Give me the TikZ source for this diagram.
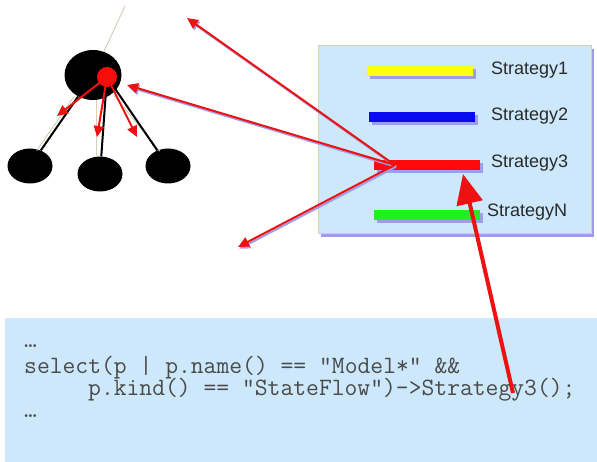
\documentclass[tikz,border=0pt]{standalone}
\usepackage{fontspec}
\setsansfont{Liberation Sans}
\usetikzlibrary{positioning,arrows.meta,calc,shapes.geometric,shadows}
\definecolor{PanelBlue}{HTML}{CCE8FA}
\definecolor{PanelEdge}{HTML}{D6D2AE}
\definecolor{ShadowLav}{HTML}{9E9EE8}
\definecolor{ArrowRed}{HTML}{EE1111}
\definecolor{BarYellow}{HTML}{FFFF10}
\definecolor{BarBlue}{HTML}{0A0AEE}
\definecolor{BarRed}{HTML}{FF0A0A}
\definecolor{BarGreen}{HTML}{20F020}
\definecolor{TreeBeige}{HTML}{D5CFB5}
\definecolor{GrayText}{HTML}{2A2A2A}
\tikzset{
  every node/.style = {inner sep=0pt, text=GrayText},
  lavshadow/.style  = {shadow xshift=3pt, shadow yshift=-3pt,
                       fill=ShadowLav, opacity=1},
  panel/.style      = {fill=PanelBlue, draw=PanelEdge, line width=1pt,
                       drop shadow={lavshadow}},
  codepanel/.style  = {fill=PanelBlue},
  stratbar/.style   = {rectangle, minimum width=106pt, minimum height=10pt,
                       drop shadow={lavshadow}},
  stratlabel/.style = {anchor=west, font=\sffamily\fontsize{18}{20}\selectfont},
  codeline/.style   = {anchor=base west, text height=17pt, text depth=4pt,
                       font=\ttfamily\fontsize{24.9}{22}\selectfont,
                       text=GrayText!85},
  codedots/.style   = {codeline, text height=3pt, text depth=0pt},
  rootnode/.style   = {ellipse, fill=black, minimum width=57pt,
                       minimum height=50pt},
  leafnode/.style   = {ellipse, fill=black, minimum width=45pt,
                       minimum height=35pt},
  marknode/.style   = {circle, fill=BarRed, minimum size=20pt},
  tedge/.style      = {line width=2pt, draw=black},
  tbeige/.style     = {line width=1pt, draw=TreeBeige},
  redarrow/.style   = {line width=2pt, draw=ArrowRed,
                       -{Triangle[length=11pt, width=10pt, fill=ArrowRed]}},
  arrowshade/.style = {line width=2pt, draw=ShadowLav,
                       -{Triangle[length=11pt, width=10pt, fill=ShadowLav]},
                       transform canvas={xshift=1.2pt, yshift=-1.8pt}},
  bigarrow/.style   = {line width=4pt, draw=ArrowRed,
                       -{Triangle[length=30pt, width=26pt, fill=ArrowRed]}},
}

\begin{document}
\begin{tikzpicture}[x=1pt, y=-1pt]
\useasboundingbox (0,0) rectangle (597,462);

% =========================================================================
% Panels
% =========================================================================
\draw[panel] (318,46) rectangle (591,234);
\fill[codepanel] (5,318) rectangle (597,462);

% =========================================================================
% Strategy bars and labels
% =========================================================================
\node[stratbar, fill=BarYellow] (bar1) at (420,71)  {};
\node[stratbar, fill=BarBlue]   (bar2) at (422,117) {};
\node[stratbar, fill=BarRed]    (bar3) at (427,165) {};
\node[stratbar, fill=BarGreen]  (barN) at (427,215) {};

\node[stratlabel] (lab1) at (491,70)  {Strategy1};
\node[stratlabel] (lab2) at (491,116) {Strategy2};
\node[stratlabel] (lab3) at (491,163) {Strategy3};
\node[stratlabel] (labN) at (487,212) {StrategyN};

% =========================================================================
% Model tree
% =========================================================================
\coordinate (up) at (125,6);
\node[rootnode] (root) at (93,75)  {};
\node[leafnode] (c1)   at (30,166) {};
\node[leafnode] (c2)   at (100,174) {};
\node[leafnode] (c3)   at (168,166) {};

% faint beige copies beside the edges
\draw[tbeige] (root) -- (up);
\draw[tbeige, transform canvas={xshift=-4pt}] (root) -- (c1);
\draw[tbeige, transform canvas={xshift=-4pt}] (root.south -| c2) -- (c2);
\draw[tbeige, transform canvas={xshift=4pt}]  (root) -- (c3);

\node[marknode] (mark) at (107,77) {};
\draw[tedge] (root) -- (c1);
\draw[tedge] (mark) -- (c2);
\draw[tedge] (mark) -- (c3);

% arrows down from the marked node
\coordinate (d1) at (57,116);
\coordinate (d2) at (97,137);
\coordinate (d3) at (137,137);
\draw[redarrow] (mark.center) -- (d1);
\draw[redarrow] (mark.center) -- (d2);
\draw[redarrow] (mark.center) -- (d3);

% =========================================================================
% Arrows out of Strategy3
% =========================================================================
\coordinate (src) at ($(bar3.west) + (21,0)$);
\coordinate (a1) at (187,18);
\coordinate (a2) at (127,85);
\coordinate (a3) at (238,247);

\draw[arrowshade] (src) -- (a1);
\draw[arrowshade] (src) -- (a2);
\draw[arrowshade] (src) -- (a3);
\draw[redarrow] (src) -- (a1);
\draw[redarrow] (src) -- (a2);
\draw[redarrow] (src) -- (a3);

% =========================================================================
% Code
% =========================================================================
\node[codedots] (code0) at (24,348) {…};
\node[codeline] (code1) at (24,373) {select(p | p.name() == “Model*” \&\&};
\node[codeline] (code2) at (88,395) {p.kind() == “StateFlow”)->Strategy3();};
\node[codedots] (code3) at (24,417) {…};

% big arrow from the call up to Strategy3
\coordinate (call) at (513,393);
\coordinate (hit)  at (463,174);
\draw[bigarrow] (call) -- (hit);

\end{tikzpicture}
\end{document}
